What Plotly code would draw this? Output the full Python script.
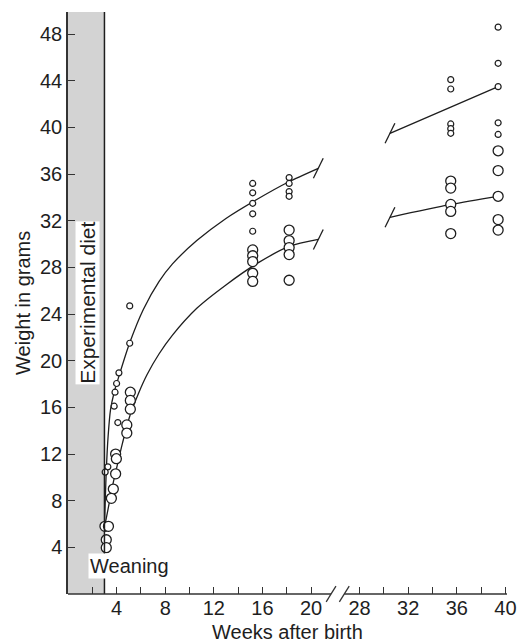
import plotly.graph_objects as go

# ---------------- data ----------------
# small open circles (upper group)
SMALL_WEEKS = [5.08, 5.08, 4.19, 4.0, 3.87, 3.8, 4.1, 3.28, 3.06,
               15.2, 15.2, 15.2, 15.2, 15.2,
               18.2, 18.2, 18.2, 18.2,
               35.5, 35.5, 35.5, 35.5, 35.5,
               39.4, 39.4, 39.4, 39.4, 39.4]
SMALL_WEIGHTS = [24.7, 21.5, 18.96, 18.05, 17.3, 16.1, 14.7, 10.9, 10.45,
                 35.2, 34.4, 33.5, 32.6, 31.1,
                 35.7, 35.2, 34.5, 34.1,
                 44.1, 43.3, 40.3, 39.9, 39.5,
                 48.6, 45.5, 43.5, 40.4, 39.4]

# large open circles (lower group)
LARGE_WEEKS = [5.13, 5.13, 5.13, 4.84, 4.84, 3.92, 3.98, 3.92, 3.73, 3.57,
               3.04, 3.33, 3.15, 3.15,
               15.2, 15.2, 15.2, 15.2, 15.2,
               18.2, 18.2, 18.2, 18.2, 18.2,
               35.5, 35.5, 35.5, 35.5, 35.5,
               39.4, 39.4, 39.4, 39.4, 39.4]
LARGE_WEIGHTS = [17.3, 16.6, 15.85, 14.5, 13.8, 12.0, 11.6, 10.3, 9.0, 8.2,
                 5.8, 5.8, 4.65, 3.97,
                 29.5, 29.0, 28.5, 27.5, 26.8,
                 31.2, 30.3, 29.7, 29.1, 26.9,
                 35.4, 34.8, 33.4, 32.8, 30.9,
                 38.0, 36.3, 34.1, 32.1, 31.2]

# fitted growth curves
UPPER_EARLY_WEEKS = [3.0, 3.15, 3.3, 3.5, 3.8, 4.2, 5.1, 6.2, 7.5, 8.6, 10.6, 13.0, 15.5, 18.1, 20.6]
UPPER_EARLY_WEIGHTS = [5.7, 10.5, 13.5, 15.8, 17.3, 18.7, 21.6, 24.4, 26.8, 28.3, 30.3, 32.2, 33.8, 35.3, 36.5]
LOWER_EARLY_WEEKS = [3.0, 3.3, 3.65, 4.0, 4.5, 5.1, 5.8, 6.5, 7.5, 8.6, 10.6, 13.0, 15.5, 18.2, 20.6]
LOWER_EARLY_WEIGHTS = [5.7, 7.3, 9.2, 10.8, 13.0, 15.3, 17.2, 18.8, 20.6, 22.2, 24.5, 26.5, 28.3, 29.8, 30.4]
UPPER_LATE_WEEKS = [30.5, 35.5, 39.4]
UPPER_LATE_WEIGHTS = [39.5, 41.75, 43.5]
LOWER_LATE_WEEKS = [30.5, 35.5, 39.4]
LOWER_LATE_WEIGHTS = [32.3, 33.4, 34.1]

X_TICK_WEEKS = [2, 4, 6, 8, 10, 12, 14, 16, 18, 20, 28, 30, 32, 34, 36, 38, 40]
X_TICK_LABELS = ["", "4", "", "8", "", "12", "", "16", "", "20",
                 "28", "", "32", "", "36", "", "40"]
Y_TICKS = [4, 8, 12, 16, 20, 24, 28, 32, 36, 40, 44, 48]

WEANING_WEEK = 3
GAP_WEEKS = 4  # weeks cut out of the axis at the break


def pos(w):
    return w if w < 24 else w - GAP_WEEKS


# ---------------- geometry ----------------
W, H = 529, 643
ML, MR, MT, MB = 68, 13, 12, 49
X_RANGE = [0, 36.13]
Y_RANGE = [0, 49.9]
PW, PH = W - ML - MR, H - MT - MB
XPU = PW / (X_RANGE[1] - X_RANGE[0])
YPU = PH / (Y_RANGE[1] - Y_RANGE[0])
INK = "#1e1e1e"
FONT = "Liberation Sans, Arial, sans-serif"

fig = go.Figure()


def add_curve(weeks, weights):
    fig.add_trace(go.Scatter(
        x=[pos(w) for w in weeks], y=weights, mode="lines",
        line=dict(color=INK, width=1.3, shape="spline", smoothing=0.8),
        hoverinfo="skip", showlegend=False))


add_curve(UPPER_EARLY_WEEKS, UPPER_EARLY_WEIGHTS)
add_curve(LOWER_EARLY_WEEKS, LOWER_EARLY_WEIGHTS)
add_curve(UPPER_LATE_WEEKS, UPPER_LATE_WEIGHTS)
add_curve(LOWER_LATE_WEEKS, LOWER_LATE_WEIGHTS)

fig.add_trace(go.Scatter(
    x=[pos(w) for w in LARGE_WEEKS], y=LARGE_WEIGHTS, mode="markers",
    marker=dict(symbol="circle", size=10, color="white", line=dict(color=INK, width=1.3)),
    showlegend=False))
fig.add_trace(go.Scatter(
    x=[pos(w) for w in SMALL_WEEKS], y=SMALL_WEIGHTS, mode="markers",
    marker=dict(symbol="circle", size=6, color="white", line=dict(color=INK, width=1.2)),
    showlegend=False))

shapes = []
# shaded experimental-diet band before weaning
shapes.append(dict(type="rect", xref="x", yref="paper", x0=0, x1=WEANING_WEEK, y0=0, y1=1,
                   fillcolor="#d3d3d3", line=dict(width=0), layer="below"))
shapes.append(dict(type="line", xref="x", yref="paper", x0=WEANING_WEEK, x1=WEANING_WEEK,
                   y0=0, y1=1, line=dict(color=INK, width=1.5)))

# broken x axis line
BRK1, BRK2 = 21.65, 22.74
shapes.append(dict(type="line", xref="x", yref="paper", x0=0, x1=BRK1, y0=0, y1=0,
                   line=dict(color="#333", width=1.5)))
shapes.append(dict(type="line", xref="x", yref="paper", x0=BRK2, x1=X_RANGE[1], y0=0, y1=0,
                   line=dict(color="#333", width=1.5)))
for c in (BRK1, BRK2):
    shapes.append(dict(type="line", xref="x", yref="paper",
                       x0=c - 5 / XPU, x1=c + 5 / XPU, y0=-7.8 / PH, y1=7.8 / PH,
                       line=dict(color="#333", width=1.3)))

# break slashes at the curve ends
ends = [(UPPER_EARLY_WEEKS[-1], UPPER_EARLY_WEIGHTS[-1]), (LOWER_EARLY_WEEKS[-1], LOWER_EARLY_WEIGHTS[-1]),
        (UPPER_LATE_WEEKS[0], UPPER_LATE_WEIGHTS[0]), (LOWER_LATE_WEEKS[0], LOWER_LATE_WEIGHTS[0])]
for wk, wt in ends:
    cx = pos(wk)
    shapes.append(dict(type="line", xref="x", yref="y",
                       x0=cx - 5 / XPU, x1=cx + 5 / XPU, y0=wt - 10 / YPU, y1=wt + 10 / YPU,
                       line=dict(color=INK, width=1.3)))

annotations = [
    dict(text="Experimental diet", x=1.6, y=25.0, xref="x", yref="y", showarrow=False,
         textangle=-90, bgcolor="white", borderpad=0, font=dict(size=21, color=INK, family=FONT)),
    dict(text="Weaning", x=5.1, y=2.4, xref="x", yref="y", showarrow=False,
         bgcolor="white", borderpad=1, font=dict(size=20, color=INK, family=FONT)),
    dict(text="Weeks after birth", x=0.5, y=-(632 - (H - MB)) / PH, xref="paper", yref="paper",
         showarrow=False, xanchor="center", yanchor="middle", font=dict(size=20, color=INK, family=FONT)),
    dict(text="Weight in grams", x=(22 - ML) / PW, y=0.5, xref="paper", yref="paper",
         showarrow=False, textangle=-90, xanchor="center", yanchor="middle",
         font=dict(size=20, color=INK, family=FONT)),
]

fig.update_layout(
    width=W, height=H, margin=dict(l=ML, r=MR, t=MT, b=MB, pad=0),
    paper_bgcolor="white", plot_bgcolor="white",
    font=dict(family=FONT, size=20, color=INK),
    shapes=shapes, annotations=annotations, showlegend=False,
    xaxis=dict(range=X_RANGE, showgrid=False, zeroline=False, showline=False,
               tickmode="array", tickvals=[pos(w) for w in X_TICK_WEEKS], ticktext=X_TICK_LABELS,
               ticks="inside", ticklen=7, tickwidth=1.3, tickcolor="#333",
               tickfont=dict(size=20, color=INK, family=FONT)),
    yaxis=dict(range=Y_RANGE, showgrid=False, zeroline=False, showline=True,
               linecolor="#333", linewidth=1.5,
               tickmode="array", tickvals=Y_TICKS,
               ticks="inside", ticklen=7, tickwidth=1.3, tickcolor="#333",
               tickfont=dict(size=20, color=INK, family=FONT)),
)

fig.write_html("out.html", config={"displayModeBar": False},
               post_script="document.body.style.margin='0';document.body.style.padding='0';")
